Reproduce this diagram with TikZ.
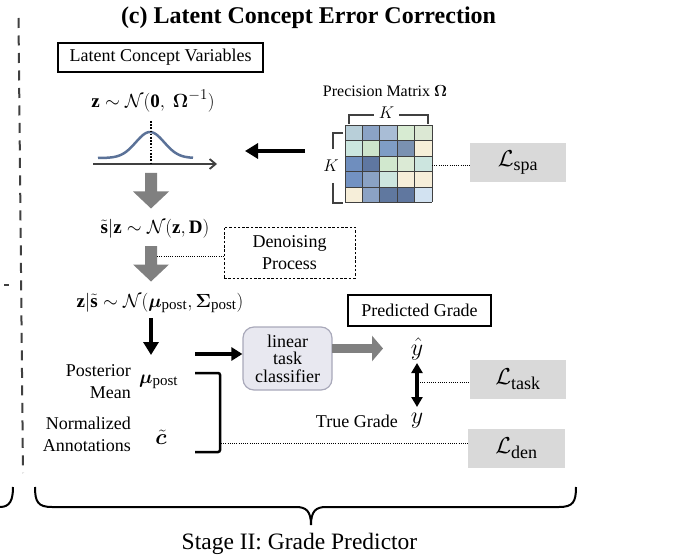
\RequirePackage{fix-cm}
\documentclass[tikz,border=0pt]{standalone}
\usepackage{amsmath,bm}
\usepackage{fontspec}
\setmainfont{Liberation Serif}
\usetikzlibrary{arrows.meta}
\DeclareMathSizes{19}{19}{15}{12}
\DeclareMathSizes{22}{22}{17}{13}
\DeclareMathSizes{23}{23}{18}{14}
\DeclareMathSizes{24}{24}{18}{14}

\definecolor{curveblue}{HTML}{5B7298}
\definecolor{blockgray}{HTML}{808080}
\definecolor{lossgray}{HTML}{D9D9D9}
\definecolor{clsfill}{HTML}{E8E8F0}
\definecolor{clsdraw}{HTML}{A9A9BA}
\definecolor{inkgray}{HTML}{404040}

\tikzset{
  txt/.style={font=\fontsize{18}{22}\selectfont, inner sep=0pt},
  mth/.style={font=\fontsize{19}{22}\selectfont, inner sep=0pt},
  boxthick/.style={draw, line width=2pt, txt},
  dashbox/.style={draw, line width=0.9pt, dash pattern=on 2.5pt off 1.8pt, txt, align=center},
  clsbox/.style={draw=clsdraw, fill=clsfill, line width=1.2pt, rounded corners=11pt,
    minimum width=89pt, minimum height=63pt, align=center, inner sep=0pt,
    font=\fontsize{18}{17.5}\selectfont},
  lossbox/.style={fill=lossgray, minimum width=96pt, minimum height=39pt, inner sep=0pt,
    font=\fontsize{23}{26}\selectfont},
  dotline/.style={line width=1pt, dash pattern=on 1pt off 1.2pt},
  blackarrow/.style={line width=4pt, -{Triangle[length=13pt,width=15pt]}},
  thinarrow/.style={line width=3.2pt, -{Triangle[length=11pt,width=13pt]}},
  dblarrow/.style={line width=3.2pt, {Triangle[length=10pt,width=11pt]}-{Triangle[length=10pt,width=11pt]}},
  grayarrow/.style={blockgray, line width=9pt, -{Triangle[length=11pt,width=25pt]}},
  brk/.style={inkgray, line width=1.2pt},
  blockdown/.pic={
    \fill[blockgray] (-6,0) -- (6,0) -- (6,18.5) -- (18,18.5) -- (0,35.5)
      -- (-18,18.5) -- (-6,18.5) -- cycle;
  }
}

\begin{document}
\begin{tikzpicture}[x=1pt, y=-1pt]
\useasboundingbox (0,0) rectangle (678,559);

% left divider and the edge of the neighbouring panel
\draw[inkgray, line width=2pt, dash pattern=on 10pt off 7.5pt] (18.5,18) -- (23,473);
\draw[inkgray, line width=2pt] (4,285) -- (9,285);
\draw[line width=2pt] (13,487) .. controls (13,500) and (10,507) .. (0,507);

% title
\node[font=\fontsize{24}{26}\selectfont\bfseries, inner sep=0pt, anchor=base] (title)
  at (308.5,24) {(c) Latent Concept Error Correction};

% latent prior
\node[boxthick, minimum width=205pt, minimum height=29pt] (lcv) at (160.5,57.5) {Latent Concept Variables};
\node[mth] (zprior) at (153,101) {$\mathbf{z}\sim\mathcal{N}(\mathbf{0},\ \bm{\Omega}^{-1})$};

% gaussian sketch
\coordinate (axis-l) at (93,164);
\coordinate (axis-r) at (217,164);
\draw[inkgray, line width=1.8pt, -{Straight Barb[length=6pt,width=10pt]}] (axis-l) -- (axis-r);
\draw[curveblue, line width=2.5pt, domain=98:193, samples=60, smooth]
  plot (\x, {158-26*exp(-((\x-150)/20)*((\x-150)/20))});
\draw[line width=1.6pt, dash pattern=on 1.6pt off 1.6pt] (151,121) -- (151,164);

% precision matrix
\node[txt, font=\fontsize{16}{19}\selectfont] (pmlabel) at (385,91) {Precision Matrix $\bm{\Omega}$};
\foreach \col [count=\i from 0] in {
  B8CFD9,8BA3C6,A9BDD6,D7EBD2,DCE8D4,
  CBE6DF,CEE5CC,7F9DC5,7A91B1,F6EFD9,
  6F8EBE,5F77A1,D1E8CE,DBEAD5,CCE5DF,
  7392C2,8AA2C4,CDE6DF,F6EED9,F6EED9,
  F6EED9,8BA2C4,60789F,60779F,D2E2F1}{
  \pgfmathtruncatemacro\cx{mod(\i,5)}
  \pgfmathtruncatemacro\cy{div(\i,5)}
  \definecolor{cellc}{HTML}{\col}
  \fill[cellc] ({345+17.4*\cx},{125.5+15.4*\cy}) rectangle ++(17.4,15.4);
}
\foreach \k in {0,...,5}{
  \draw[inkgray, line width=0.8pt] ({345+17.4*\k},125.5) -- ++(0,77);
  \draw[inkgray, line width=0.8pt] (345,{125.5+15.4*\k}) -- ++(87,0);
}
\draw[brk] (349,124) -- (349,115) -- (374,115);
\draw[brk] (399,115) -- (428,115) -- (428,124);
\node[txt, font=\fontsize{17}{19}\selectfont] (ktop) at (386.5,113) {$K$};
\draw[brk] (343,133) -- (333,133) -- (333,149);
\draw[brk] (333,183) -- (333,203) -- (343,203);
\node[txt, font=\fontsize{17}{19}\selectfont] (kleft) at (331,166) {$K$};

\coordinate (mat-w) at (305,151);
\coordinate (gauss-e) at (245,151);
\draw[blackarrow] (mat-w) -- (gauss-e);

\node[lossbox] (lspa) at (518,162.5) {$\mathcal{L}_{\mathrm{spa}}$};
\coordinate (mat-e) at (432,166);
\draw[dotline] (mat-e) -- (mat-e -| lspa.west);

% denoising chain
\pic at (151,173) {blockdown};
\node[mth] (snoise) at (155,229) {$\tilde{\mathbf{s}}|\mathbf{z}\sim\mathcal{N}(\mathbf{z},\mathbf{D})$};
\pic at (151,246) {blockdown};
\node[dashbox, minimum width=131pt, minimum height=51pt] (denoise) at (289.5,252.5) {Denoising\\Process};
\coordinate (shaft2) at (157,256);
\draw[dotline] (shaft2) -- (shaft2 -| denoise.west);

\node[mth] (zpost) at (160,303) {$\mathbf{z}|\tilde{\mathbf{s}}\sim\mathcal{N}(\bm{\mu}_{\mathrm{post}},\bm{\Sigma}_{\mathrm{post}})$};
\coordinate (down-top) at (151,318);
\coordinate (down-tip) at (151,355);
\draw[blackarrow] (down-top) -- (down-tip);

% posterior mean and annotations
\node[txt, align=right, anchor=east] (postlabel) at (131,382) {Posterior\\Mean};
\node[mth, anchor=base west] (mu) at (139,383) {$\bm{\mu}_{\mathrm{post}}$};
\node[txt, align=right, anchor=east] (annlabel) at (131,434) {Normalized\\Annotations};
\node[mth, font=\fontsize{22}{24}\selectfont] (ctilde) at (161,437) {$\tilde{\bm{c}}$};

\node[clsbox] (cls) at (287.5,358.5) {linear\\task\\classifier};
\coordinate (mu-out) at (195,354);
\draw[thinarrow] (mu-out) -- (mu-out -| cls.west);

\draw[line width=2.5pt, rounded corners=2pt] (195,373) -- (220,373) -- (220,452) -- (195,452);

% grade prediction
\node[boxthick, minimum width=143pt, minimum height=31pt] (pg) at (419.5,310.5) {Predicted Grade};
\coordinate (cls-out) at (332,348.5);
\coordinate (yhat-in) at (383,348.5);
\draw[grayarrow] (cls-out) -- (yhat-in);
\node[txt, font=\fontsize{24}{26}\selectfont] (yhat) at (417,349) {$\hat{y}$};
\node[txt, font=\fontsize{24}{26}\selectfont] (ytrue) at (417,421) {$y$};
\node[txt, anchor=base east] (tg) at (398,427) {True Grade};
\coordinate (dbl-top) at (417,363);
\coordinate (dbl-bot) at (417,407);
\draw[dblarrow] (dbl-top) -- (dbl-bot);

\node[lossbox] (ltask) at (518,379) {$\mathcal{L}_{\mathrm{task}}$};
\coordinate (dbl-mid) at (420,382);
\draw[dotline] (dbl-mid) -- (dbl-mid -| ltask.west);

\node[lossbox, minimum width=97pt] (lden) at (516.5,448) {$\mathcal{L}_{\mathrm{den}}$};
\coordinate (brk-out) at (221,443);
\draw[dotline] (brk-out) -- (brk-out -| lden.west);

% stage brace
\draw[line width=2pt] (35,487) .. controls (35,502) and (38,507) .. (52,507) -- (296,507)
  .. controls (306,507) and (311,511) .. (311,525)
  .. controls (311,511) and (316,507) .. (326,507) -- (559,507)
  .. controls (573,507) and (576,502) .. (576,487);
\node[font=\fontsize{23.5}{26}\selectfont, inner sep=0pt, anchor=base] (stage) at (299.5,549) {Stage II: Grade Predictor};
\end{tikzpicture}
\end{document}
